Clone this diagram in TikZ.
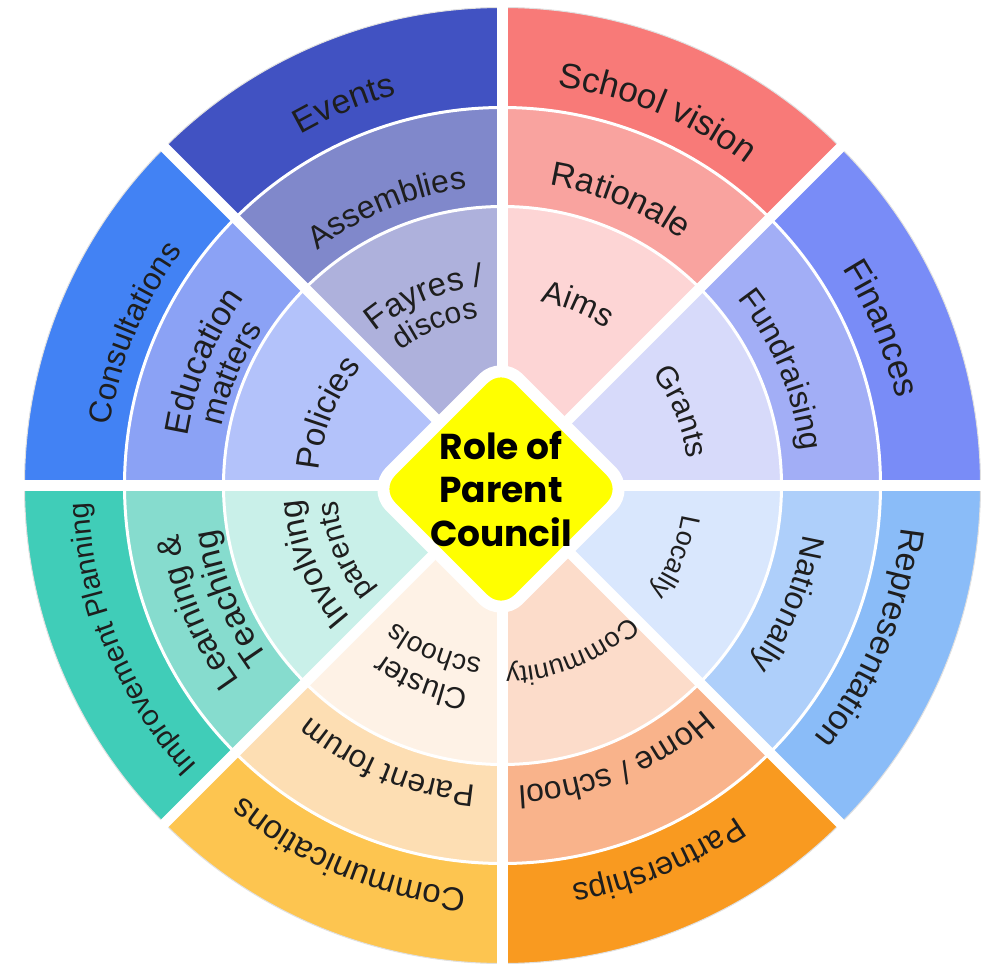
\documentclass[tikz,border=0pt]{standalone}
\usepackage{fontspec}
\setmainfont{Liberation Sans}
\newfontfamily\gothicfont{Poppins}
\usetikzlibrary{decorations.text}

\definecolor{txt}{HTML}{1E1E1E}
\definecolor{evO}{HTML}{4152C2}
\definecolor{evM}{HTML}{8088CB}
\definecolor{evI}{HTML}{AEB1DC}
\definecolor{svO}{HTML}{F87A78}
\definecolor{svM}{HTML}{F9A39F}
\definecolor{svI}{HTML}{FDD5D5}
\definecolor{fiO}{HTML}{798CF7}
\definecolor{fiM}{HTML}{A2AEF6}
\definecolor{fiI}{HTML}{D7DAFA}
\definecolor{reO}{HTML}{8ABCF8}
\definecolor{reM}{HTML}{AECFFA}
\definecolor{reI}{HTML}{D9E7FD}
\definecolor{paO}{HTML}{F99A20}
\definecolor{paM}{HTML}{F9B38B}
\definecolor{paI}{HTML}{FCDCCA}
\definecolor{coO}{HTML}{FDC550}
\definecolor{coM}{HTML}{FDDEB3}
\definecolor{coI}{HTML}{FEF2E6}
\definecolor{imO}{HTML}{40CDB8}
\definecolor{imM}{HTML}{86DCCE}
\definecolor{imI}{HTML}{C9F0E9}
\definecolor{csO}{HTML}{4282F4}
\definecolor{csM}{HTML}{8BA2F5}
\definecolor{csI}{HTML}{B3C2FA}
\definecolor{diam}{HTML}{FFFF00}

% pie sector: start angle, radius, colour
\newcommand\piesector[3]{%
  \fill[#3] (0pt,0pt) -- (#1:#2pt) arc[start angle=#1, end angle={#1+45}, radius=#2pt] -- cycle;}
% curved label: centre angle, baseline radius, font size, text
\newcommand\arctext[4]{%
  \path[decorate, decoration={text along path, text align=center, text color=txt,
     text={|\fontsize{#3pt}{#3pt}\selectfont|#4}}]
     ({#1+40}:#2pt) arc[start angle={#1+40}, end angle={#1-40}, radius=#2pt];}

\tikzset{
  gap/.style={white, line width=10.5pt},
  ringline/.style={white, line width=3pt},
  diamondshape/.style={draw=white, line width=12pt, fill=diam, rounded corners=25pt},
  titletext/.style={align=center, inner sep=0pt, text=black,
     font=\gothicfont\bfseries\fontsize{36pt}{43.5pt}\selectfont}
}

\begin{document}
\begin{tikzpicture}[x=1pt,y=1pt]
\useasboundingbox (-502.5,-478.5) rectangle (489.5,485.5);
\fill[white] (-502.5,-478.5) rectangle (489.5,485.5);

% outer ring
\piesector{90}{478}{evO}
\piesector{45}{478}{svO}
\piesector{0}{478}{fiO}
\piesector{-45}{478}{reO}
\piesector{-90}{478}{paO}
\piesector{-135}{478}{coO}
\piesector{180}{478}{imO}
\piesector{135}{478}{csO}
% middle ring
\piesector{90}{378}{evM}
\piesector{45}{378}{svM}
\piesector{0}{378}{fiM}
\piesector{-45}{378}{reM}
\piesector{-90}{378}{paM}
\piesector{-135}{378}{coM}
\piesector{180}{378}{imM}
\piesector{135}{378}{csM}
% inner ring
\piesector{90}{279}{evI}
\piesector{45}{279}{svI}
\piesector{0}{279}{fiI}
\piesector{-45}{279}{reI}
\piesector{-90}{279}{paI}
\piesector{-135}{279}{coI}
\piesector{180}{279}{imI}
\piesector{135}{279}{csI}

\draw[black!12, line width=1pt] (0,0) circle[radius=478pt];
\draw[ringline] (0,0) circle[radius=378pt];
\draw[ringline] (0,0) circle[radius=279pt];
\foreach \a in {0,45,90,135}{
  \draw[gap] (\a:490pt) -- ({\a+180}:490pt);
}

% outer labels
\arctext{112.5}{405}{34}{Events}
\arctext{67.5}{403}{35}{School vision}
\arctext{22.5}{403}{35}{Finances}
\arctext{-22.5}{401}{34}{Representation}
\arctext{-67.5}{405}{32}{Partnerships}
\arctext{-112.5}{405}{33}{Communications}
\arctext{-157.5}{414}{29}{Improvement Planning}
\arctext{157.5}{397}{31.5}{Consultations}
% middle labels
\arctext{112.5}{299}{32}{Assemblies}
\arctext{67.5}{304}{34}{Rationale}
\arctext{22.5}{300}{32}{Fundraising}
\arctext{-22.5}{305}{32}{Nationally}
\arctext{-67.5}{301}{32}{Home / school}
\arctext{-112.5}{301}{31.5}{Parent forum}
\arctext{157.5}{319}{34}{Education}
\arctext{157.5}{286.5}{32}{matters}
\arctext{-157.5}{327}{33}{Learning {\&}}
\arctext{-157.5}{290}{34}{Teaching}
% inner labels
\arctext{67.5}{188}{32}{Aims}
\arctext{22.5}{187}{31}{Grants}
\arctext{157.5}{184}{33}{Policies}
\arctext{-22.5}{182}{27}{Locally}
\arctext{-67.5}{182}{27}{Community}
\arctext{112.5}{200}{33}{Fayres /}
\arctext{112.5}{169}{30}{discos}
\arctext{-157.5}{201}{33}{Involving}
\arctext{-157.5}{166}{30}{parents}
\arctext{-112.5}{207}{30}{Cluster}
\arctext{-112.5}{174}{28}{schools}

% centre diamond
\draw[diamondshape] (-1.5,124.5) -- (126.5,-3.5) -- (-1.5,-131.5) -- (-129.5,-3.5) -- cycle;
\node[titletext] (title) at (-1.5,-3.5) {Role of\\Parent\\Council};
\end{tikzpicture}
\end{document}
